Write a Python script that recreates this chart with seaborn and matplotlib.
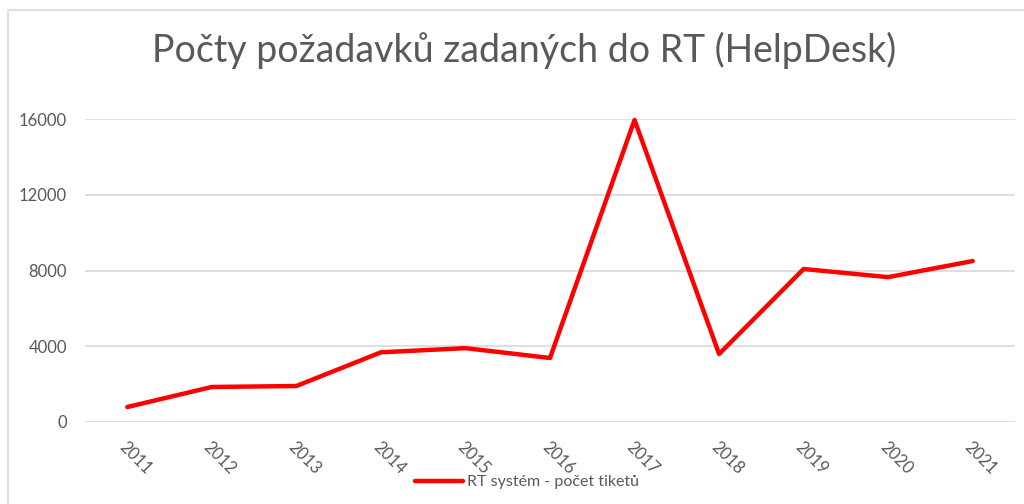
import matplotlib.pyplot as plt
import matplotlib.patches as mpatches
import pandas as pd
import seaborn as sns

# data
years = ["2011", "2012", "2013", "2014", "2015", "2016", "2017", "2018", "2019", "2020", "2021"]
tickets = [790, 1850, 1900, 3680, 3900, 3380, 15950, 3590, 8080, 7650, 8500]
series_name = "RT systém - počet tiketů"
title = "Počty požadavků zadaných do RT (HelpDesk)"

df = pd.DataFrame({"year": years, "tickets": tickets})
df["pos"] = range(len(years))

sns.set_style("white")
plt.rcParams["font.family"] = ["Lato", "DejaVu Sans"]

fig = plt.figure(figsize=(10.24, 5.04), dpi=100)
ax = fig.add_axes([85 / 1024, 82 / 504, 930 / 1024, 303 / 504])

# outer chart border like the Excel chart frame
fig.patches.append(mpatches.Rectangle((8 / 1024, -0.1), 1.2, (504 - 10) / 504 + 0.1,
                                      transform=fig.transFigure, fill=False,
                                      edgecolor="#d9d9d9", linewidth=1.2))

sns.lineplot(data=df, x="pos", y="tickets", ax=ax, color="#ff0000", linewidth=3.2,
             label=series_name, clip_on=False)

ax.set_xlim(-0.5, len(years) - 0.5)
ax.set_ylim(0, 16000)
ax.set_yticks([0, 4000, 8000, 12000, 16000])
ax.set_xticks(df["pos"])
ax.set_xticklabels(years, rotation=-45, ha="left", va="top", rotation_mode="anchor")
ax.tick_params(axis="both", length=0, labelsize=12, labelcolor="#595959")
ax.tick_params(axis="x", pad=12)
ax.tick_params(axis="y", pad=13)
ax.grid(axis="y", color="#d9d9d9", linewidth=1.2)
ax.set_axisbelow(True)
for s in ax.spines.values():
    s.set_visible(False)
ax.set_xlabel("")
ax.set_ylabel("")

fig.text(524 / 1024, 1 - 50 / 504, title, ha="center", va="center",
         fontsize=27, color="#595959")

leg = ax.legend(loc="center", bbox_to_anchor=(527 / 1024, 1 - 482 / 504),
                bbox_transform=fig.transFigure, frameon=False, fontsize=11.5,
                handlelength=3, handletextpad=0.3)
for t in leg.get_texts():
    t.set_color("#595959")

fig.savefig("out.png", dpi=100)
